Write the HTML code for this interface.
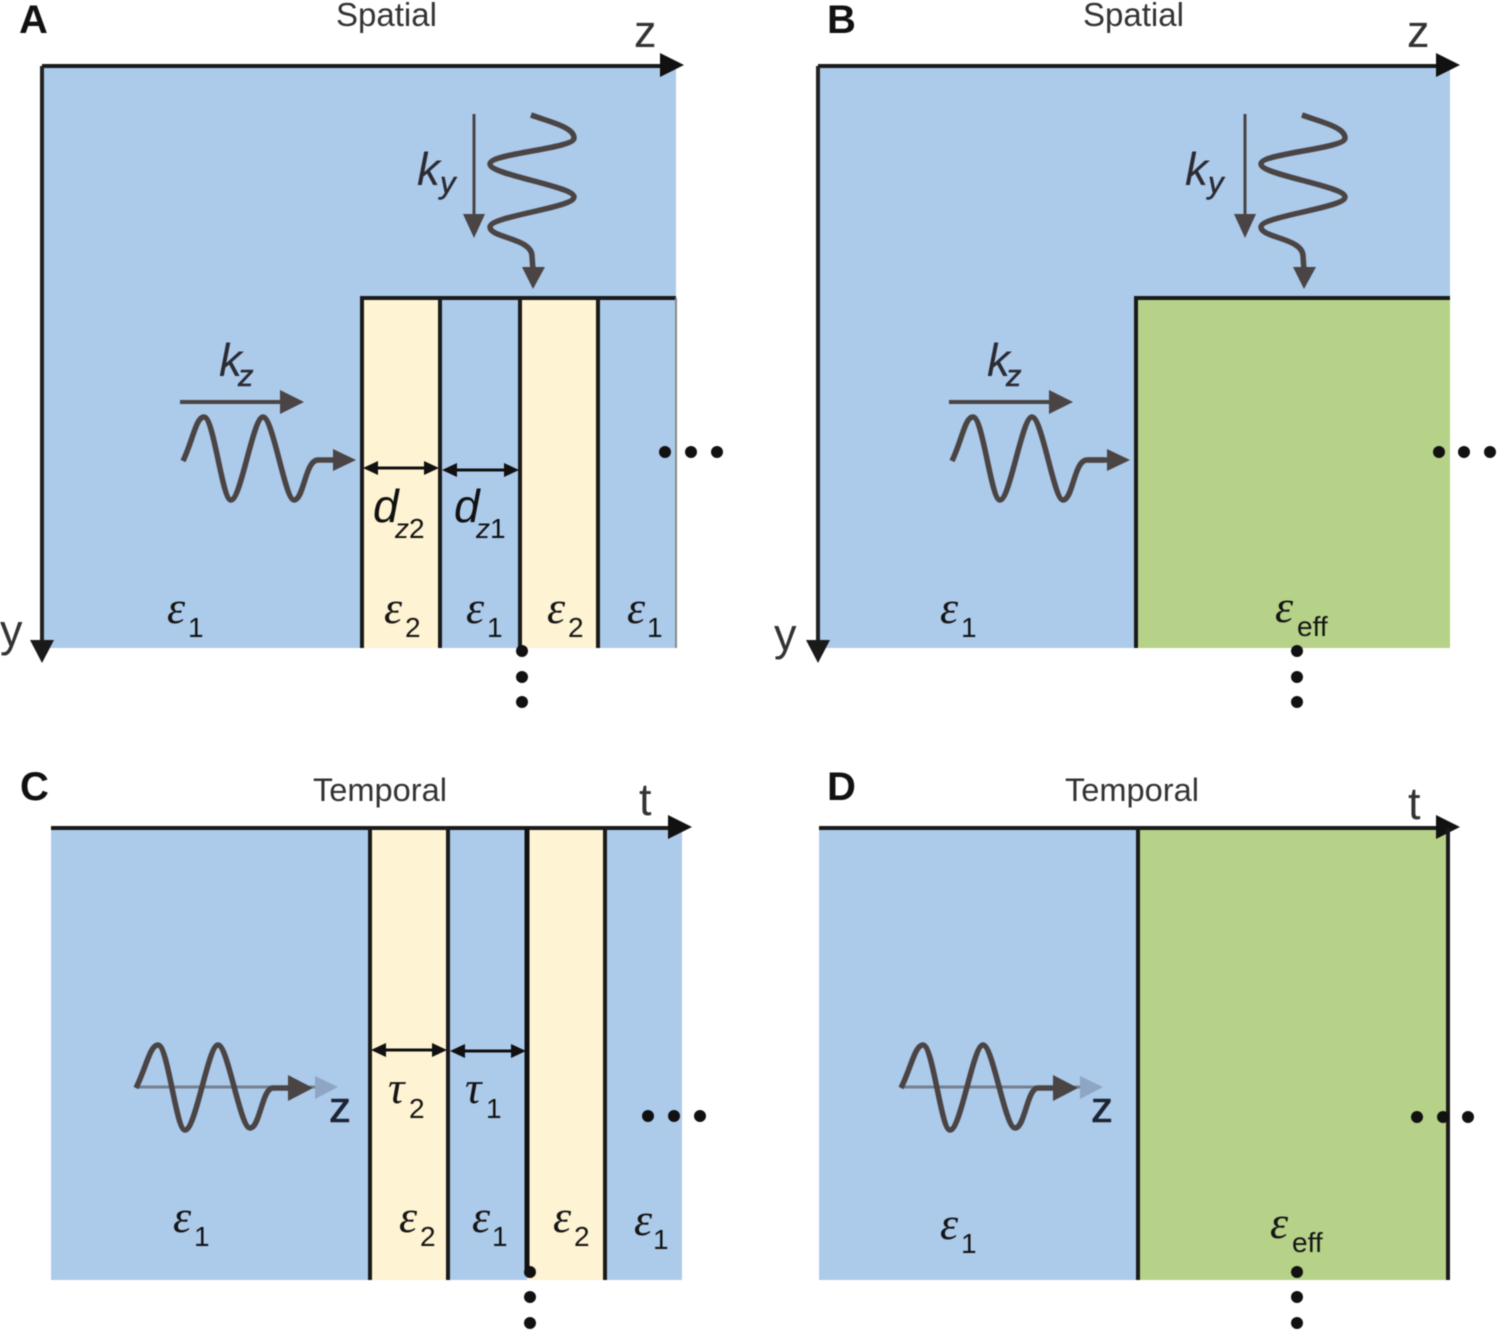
<!DOCTYPE html>
<html><head><meta charset="utf-8"><style>
html,body{margin:0;padding:0;background:#fff}
svg{display:block;filter:blur(.4px)}
text{font-family:"Liberation Sans",sans-serif;fill:#1a1a1a}
.t{font-size:33px;fill:#333}
.tt{font-size:32.6px;fill:#333}
.p{font-size:40px;font-weight:bold;fill:#111}
.ax{font-size:45px;fill:#333}
.e{font-family:"Liberation Serif",serif;font-style:italic;font-size:46px;fill:#151515}
.s{font-size:28px;fill:#151515}
.k{font-size:46px;font-style:italic;fill:#2b2b33}
.ks{font-size:31px;font-style:italic;fill:#2b2b33;stroke:#2b2b33;stroke-width:.5}
.d{font-size:46px;font-style:italic;fill:#111}
.ds{font-size:28px;fill:#111}
.ds tspan{font-style:italic}
.z{font-size:44px;fill:#1c2433;stroke:#1c2433;stroke-width:.6}
.ln{stroke:#1a1a1a;stroke-width:4;fill:none}
.w{stroke:#4a4444;stroke-width:5.5;fill:none;stroke-linejoin:round}
</style></head><body>
<svg width="1500" height="1333" viewBox="0 0 1500 1333" xmlns="http://www.w3.org/2000/svg">
<defs>
<g id="vw">
<path d="M474 114V216" stroke="#4a4444" stroke-width="3" fill="none"/>
<path d="M463 214H485L474 238Z" fill="#4a4444"/>
<path class="w" d="M531 115C550 122 574 127 574 138C574 149 490 153 490 164C490 175 574 186 574 197C574 208 490 216 490 227C490 238 532 238 532 256L533 270"/>
<path d="M522 267H545L533 289Z" fill="#4a4444"/>
</g>
<g id="hw">
<path d="M180 402H283" stroke="#4a4444" stroke-width="4" fill="none"/>
<path d="M280 390L304 402L280 414Z" fill="#4a4444"/>
<path class="w" d="M183 461C193 440 196 417 204 417C214 417 222 500 231 500C241 500 253 417 263 417C273 417 285 500 294 500C304 500 305 460 318 460L335 460"/>
</g>
<g id="tw">
<path d="M136 1087H320" stroke="#76808f" stroke-width="3" fill="none"/>
<path d="M315 1076L338 1087L315 1099Z" fill="#8fa5c4"/>
<path class="w" d="M136 1088C146 1068 150 1045 158 1045C168 1045 176 1130 185 1130C196 1130 208 1045 218 1045C228 1045 240 1128 250 1128C260 1128 262 1088 273 1088L290 1088"/>
<path d="M288 1075L313 1088L288 1101Z" fill="#4a4444"/>
</g>
</defs>

<!-- Panel A -->
<rect x="42" y="66" width="634" height="582" fill="#accaea"/>
<rect x="362" y="298" width="78" height="350" fill="#fef3d2"/>
<rect x="520" y="298" width="78" height="350" fill="#fef3d2"/>
<path d="M42 66H664" stroke="#1a1a1a" stroke-width="4" fill="none"/>
<path d="M660 53L684 65L660 77Z" fill="#111"/>
<path d="M42 66V645" stroke="#222" stroke-width="4" fill="none"/>
<path d="M30 640H54L42 663Z" fill="#1a1a1a"/>
<path class="ln" d="M360 298H676M362 298V648M440 298V648M520 298V650M598 298V648"/>
<path d="M676 298V648" stroke="#8a8a8a" stroke-width="2" fill="none"/>
<use href="#vw"/><use href="#hw"/>
<path d="M333 449L356 460L333 471Z" fill="#4a4444"/>
<path d="M366 468H436" stroke="#111" stroke-width="3"/>
<path d="M363 468L378 461V475ZM439 468L424 461V475Z" fill="#111"/>
<path d="M445 470H516" stroke="#111" stroke-width="3"/>
<path d="M442 470L457 463V477ZM519 470L504 463V477Z" fill="#111"/>
<g fill="#111"><circle cx="665" cy="452" r="6"/><circle cx="691" cy="452" r="6"/><circle cx="717" cy="452" r="6"/><circle cx="522" cy="651" r="6"/><circle cx="522" cy="677" r="6"/><circle cx="522" cy="702" r="6"/></g>
<text class="p" x="19" y="33">A</text>
<text class="t" x="336" y="26">Spatial</text>
<text class="ax" x="634" y="47">z</text>
<text class="ax" x="0" y="646">y</text>
<text class="k" x="417" y="185">k</text><text class="ks" x="440" y="193">y</text>
<text class="k" x="219" y="376">k</text><text class="ks" x="238" y="386">z</text>
<text class="d" x="373" y="522">d</text><text class="ds" x="395" y="538"><tspan>z</tspan>2</text>
<text class="d" x="454" y="522">d</text><text class="ds" x="476" y="538"><tspan>z</tspan>1</text>
<text class="e" x="167" y="623">ε</text><text class="s" x="188" y="637">1</text>
<text class="e" x="384" y="623">ε</text><text class="s" x="405" y="637">2</text>
<text class="e" x="466" y="623">ε</text><text class="s" x="487" y="637">1</text>
<text class="e" x="547" y="623">ε</text><text class="s" x="568" y="637">2</text>
<text class="e" x="627" y="623">ε</text><text class="s" x="647" y="637">1</text>

<!-- Panel B -->
<rect x="818" y="66" width="632" height="582" fill="#accaea"/>
<rect x="1136" y="298" width="314" height="350" fill="#b5d288"/>
<path d="M818 66H1440" stroke="#1a1a1a" stroke-width="4" fill="none"/>
<path d="M1436 53L1460 65L1436 77Z" fill="#111"/>
<path d="M818 66V645" stroke="#222" stroke-width="4" fill="none"/>
<path d="M806 640H830L818 663Z" fill="#1a1a1a"/>
<path class="ln" d="M1134 298H1450M1136 298V648"/>
<use href="#vw" x="771"/>
<use href="#hw" x="769"/>
<path d="M1088 460H1110" stroke="#4a4444" stroke-width="5.5"/>
<path d="M1107 449L1130 460L1107 471Z" fill="#4a4444"/>
<g fill="#111"><circle cx="1439" cy="452" r="6"/><circle cx="1464" cy="452" r="6"/><circle cx="1490" cy="452" r="6"/><circle cx="1297" cy="651" r="6"/><circle cx="1297" cy="677" r="6"/><circle cx="1297" cy="702" r="6"/></g>
<text class="p" x="827" y="33">B</text>
<text class="t" x="1083" y="26">Spatial</text>
<text class="ax" x="1407" y="47">z</text>
<text class="ax" x="774" y="650">y</text>
<text class="k" x="1185" y="185">k</text><text class="ks" x="1208" y="193">y</text>
<text class="k" x="987" y="376">k</text><text class="ks" x="1006" y="386">z</text>
<text class="e" x="940" y="623">ε</text><text class="s" x="961" y="637">1</text>
<text class="e" x="1275" y="622">ε</text><text class="s" x="1297" y="636">eff</text>

<!-- Panel C -->
<rect x="51" y="828" width="631" height="452" fill="#accaea"/>
<rect x="371" y="828" width="77" height="452" fill="#fef3d2"/>
<rect x="527" y="828" width="78" height="452" fill="#fef3d2"/>
<path d="M51 828H672" stroke="#1a1a1a" stroke-width="4" fill="none"/>
<path d="M668 815L692 827L668 839Z" fill="#111"/>
<path class="ln" d="M370 828V1280M448 828V1280M605 828V1280"/>
<path d="M527 828V1275" stroke="#111" stroke-width="5" fill="none"/>
<use href="#tw"/>
<path d="M374 1050H444" stroke="#111" stroke-width="3"/>
<path d="M371 1050L386 1043V1057ZM447 1050L432 1043V1057Z" fill="#111"/>
<path d="M453 1051H523" stroke="#111" stroke-width="3"/>
<path d="M450 1051L465 1044V1058ZM526 1051L511 1044V1058Z" fill="#111"/>
<g fill="#111"><circle cx="648" cy="1116" r="6"/><circle cx="674" cy="1116" r="6"/><circle cx="700" cy="1116" r="6"/><circle cx="530" cy="1272" r="6"/><circle cx="530" cy="1297" r="6"/><circle cx="530" cy="1323" r="6"/></g>
<text class="p" x="20" y="800">C</text>
<text class="tt" x="313" y="801">Temporal</text>
<text class="ax" x="639" y="815">t</text>
<text class="z" x="329" y="1122">z</text>
<text class="e" x="388" y="1103">τ</text><text class="s" x="409" y="1118">2</text>
<text class="e" x="465" y="1103">τ</text><text class="s" x="486" y="1118">1</text>
<text class="e" x="173" y="1232">ε</text><text class="s" x="194" y="1246">1</text>
<text class="e" x="399" y="1232">ε</text><text class="s" x="420" y="1246">2</text>
<text class="e" x="472" y="1232">ε</text><text class="s" x="492" y="1246">1</text>
<text class="e" x="553" y="1232">ε</text><text class="s" x="574" y="1246">2</text>
<text class="e" x="634" y="1235">ε</text><text class="s" x="653" y="1249">1</text>

<!-- Panel D -->
<rect x="819" y="828" width="319" height="452" fill="#accaea"/>
<rect x="1138" y="828" width="310" height="452" fill="#b5d288"/>
<path d="M819 828H1440" stroke="#1a1a1a" stroke-width="4" fill="none"/>
<path d="M1436 815L1460 827L1436 839Z" fill="#111"/>
<path class="ln" d="M1138 828V1280M1448 828V1280"/>
<use href="#tw" x="765"/>
<g fill="#111"><circle cx="1417" cy="1117" r="6"/><circle cx="1443" cy="1117" r="6"/><circle cx="1468" cy="1117" r="6"/><circle cx="1297" cy="1272" r="6"/><circle cx="1297" cy="1297" r="6"/><circle cx="1297" cy="1323" r="6"/></g>
<text class="p" x="827" y="800">D</text>
<text class="tt" x="1065" y="801">Temporal</text>
<text class="ax" x="1408" y="819">t</text>
<text class="z" x="1091" y="1122">z</text>
<text class="e" x="940" y="1239">ε</text><text class="s" x="961" y="1253">1</text>
<text class="e" x="1270" y="1238">ε</text><text class="s" x="1292" y="1252">eff</text>
</svg>
</body></html>
